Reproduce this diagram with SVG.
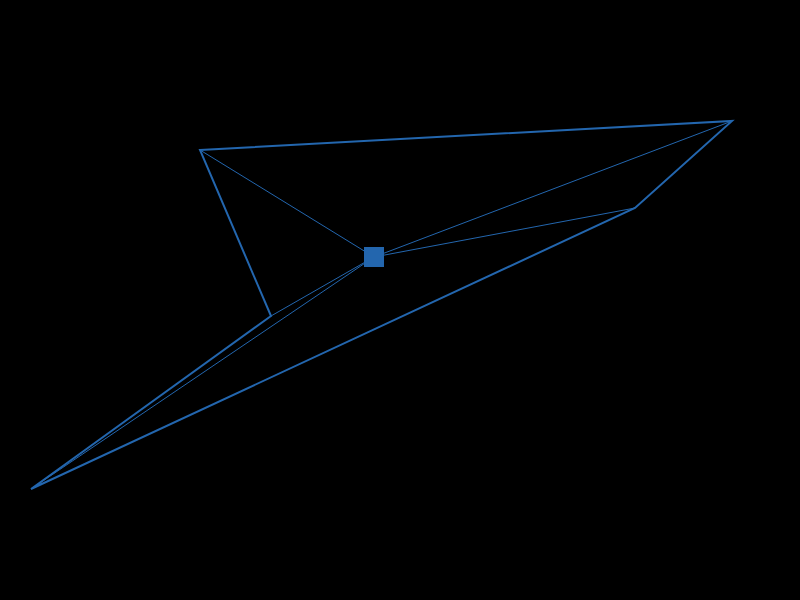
<svg xmlns="http://www.w3.org/2000/svg" width="800" height="600" viewBox="0 0 800 600">
<style>
.outline{fill:none;stroke:#2366ae;stroke-width:2;stroke-linejoin:miter}
.spoke{stroke:#2366ae;stroke-width:1;fill:none}
.hub{fill:#2366ae}
</style>
<rect width="800" height="600" fill="#000"/>
<g id="connectors">
<polygon class="outline" points="200,150 732,121 635,208 31,489 271,316"/>
<line class="spoke" x1="374" y1="257" x2="200" y2="150"/>
<line class="spoke" x1="374" y1="257" x2="732" y2="121"/>
<line class="spoke" x1="374" y1="257" x2="635" y2="208"/>
<line class="spoke" x1="374" y1="257" x2="31" y2="489"/>
<line class="spoke" x1="374" y1="257" x2="271" y2="316"/>
</g>
<g id="hub">
<rect class="hub" x="364" y="247" width="20" height="20"/>
</g>
</svg>
